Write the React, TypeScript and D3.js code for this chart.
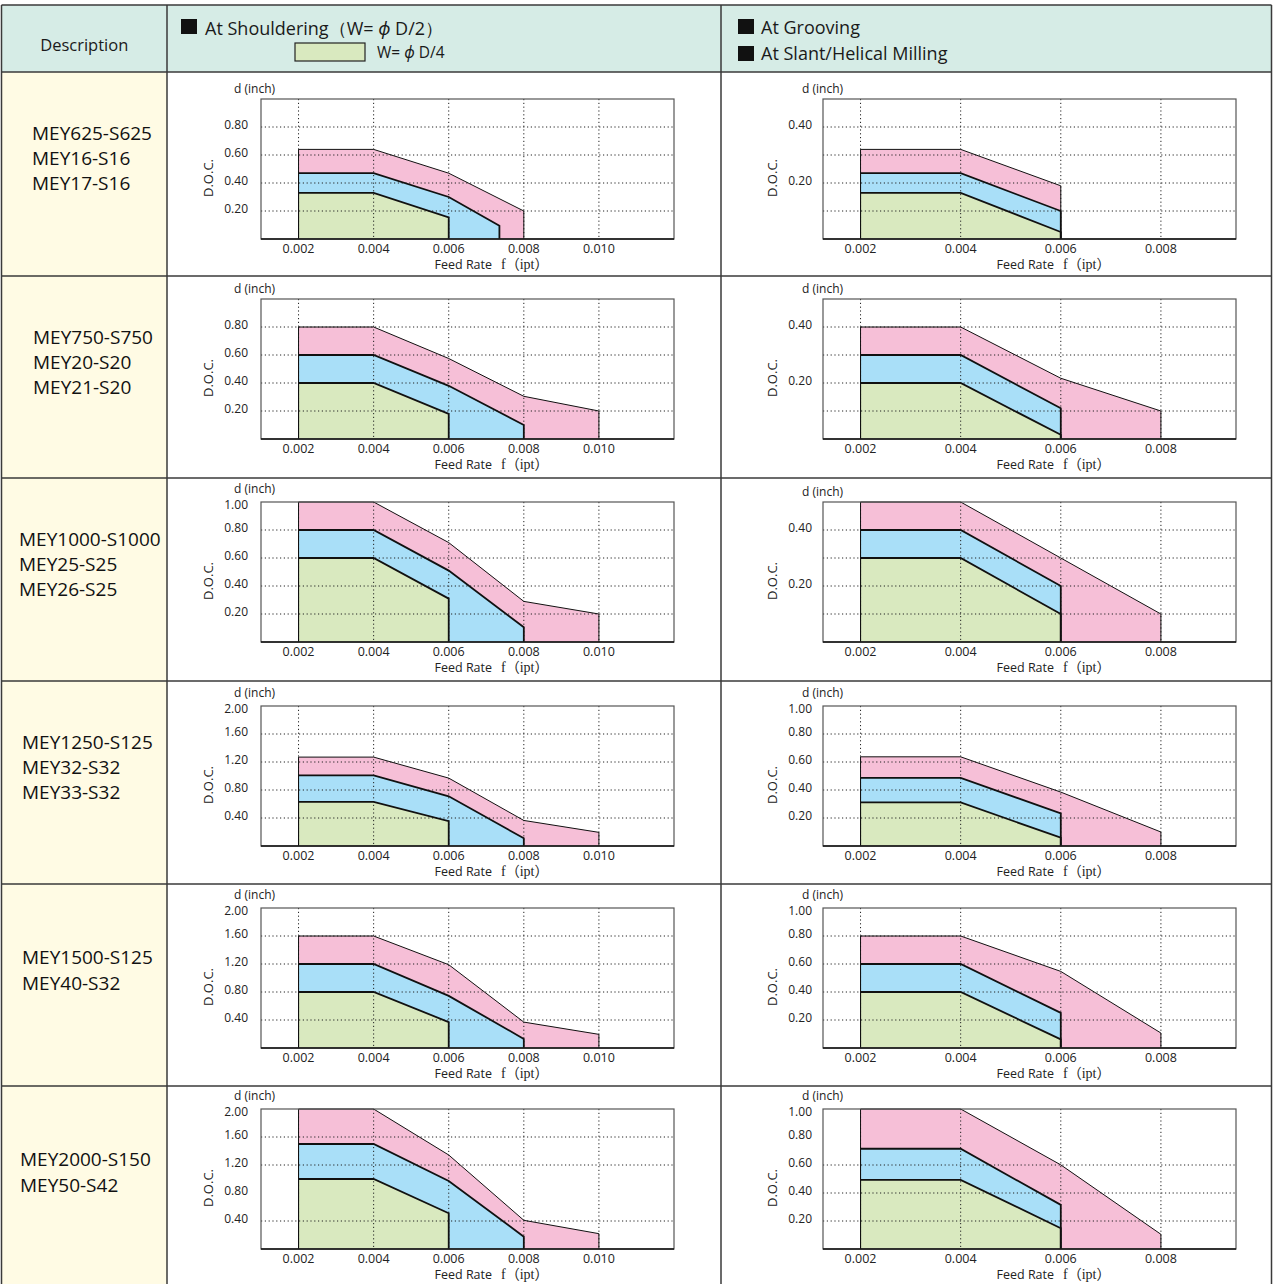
import React from 'react';
import * as d3 from 'd3';

type Pt = [number, number];

// --- table text ---
const descriptions: string[][] = [
  ['MEY625-S625', 'MEY16-S16', 'MEY17-S16'],
  ['MEY750-S750', 'MEY20-S20', 'MEY21-S20'],
  ['MEY1000-S1000', 'MEY25-S25', 'MEY26-S25'],
  ['MEY1250-S125', 'MEY32-S32', 'MEY33-S32'],
  ['MEY1500-S125', 'MEY40-S32'],
  ['MEY2000-S150', 'MEY50-S42'],
];

// --- x ticks (feed rate, ipt) ---
const shoulderFeedTicks = [0.002, 0.004, 0.006, 0.008, 0.010];
const grooveFeedTicks = [0.002, 0.004, 0.006, 0.008];

// --- depth of cut curves, each chart = [pink, blue (W=φD/2), green (W=φD/4)] ---
const shoulder625: Pt[][] = [
  [[0.002, 0.64], [0.004, 0.64], [0.006, 0.47], [0.008, 0.2]],
  [[0.002, 0.47], [0.004, 0.47], [0.006, 0.3], [0.00735, 0.095]],
  [[0.002, 0.33], [0.004, 0.33], [0.006, 0.155]],
];
const groove625: Pt[][] = [
  [[0.002, 0.32], [0.004, 0.32], [0.006, 0.19]],
  [[0.002, 0.235], [0.004, 0.235], [0.006, 0.1]],
  [[0.002, 0.165], [0.004, 0.165], [0.006, 0.025]],
];
const shoulder750: Pt[][] = [
  [[0.002, 0.8], [0.004, 0.8], [0.006, 0.575], [0.008, 0.305], [0.01, 0.2]],
  [[0.002, 0.6], [0.004, 0.6], [0.006, 0.38], [0.008, 0.1]],
  [[0.002, 0.4], [0.004, 0.4], [0.006, 0.18]],
];
const groove750: Pt[][] = [
  [[0.002, 0.4], [0.004, 0.4], [0.006, 0.217], [0.008, 0.1]],
  [[0.002, 0.3], [0.004, 0.3], [0.006, 0.11]],
  [[0.002, 0.2], [0.004, 0.2], [0.006, 0.015]],
];
const shoulder1000: Pt[][] = [
  [[0.002, 1.0], [0.004, 1.0], [0.006, 0.71], [0.008, 0.29], [0.01, 0.2]],
  [[0.002, 0.8], [0.004, 0.8], [0.006, 0.51], [0.008, 0.105]],
  [[0.002, 0.6], [0.004, 0.6], [0.006, 0.31]],
];
const groove1000: Pt[][] = [
  [[0.002, 0.5], [0.004, 0.5], [0.006, 0.3], [0.008, 0.1]],
  [[0.002, 0.4], [0.004, 0.4], [0.006, 0.2]],
  [[0.002, 0.3], [0.004, 0.3], [0.006, 0.1]],
];
const shoulder1250: Pt[][] = [
  [[0.002, 1.27], [0.004, 1.27], [0.006, 0.97], [0.008, 0.365], [0.01, 0.195]],
  [[0.002, 1.01], [0.004, 1.01], [0.006, 0.71], [0.008, 0.11]],
  [[0.002, 0.63], [0.004, 0.63], [0.006, 0.355]],
];
const groove1250: Pt[][] = [
  [[0.002, 0.637], [0.004, 0.637], [0.006, 0.385], [0.008, 0.1]],
  [[0.002, 0.487], [0.004, 0.487], [0.006, 0.233]],
  [[0.002, 0.311], [0.004, 0.311], [0.006, 0.059]],
];
const shoulder1500: Pt[][] = [
  [[0.002, 1.6], [0.004, 1.6], [0.006, 1.19], [0.008, 0.37], [0.01, 0.195]],
  [[0.002, 1.2], [0.004, 1.2], [0.006, 0.745], [0.008, 0.13]],
  [[0.002, 0.8], [0.004, 0.8], [0.006, 0.37]],
];
const groove1500: Pt[][] = [
  [[0.002, 0.8], [0.004, 0.8], [0.006, 0.547], [0.008, 0.107]],
  [[0.002, 0.6], [0.004, 0.6], [0.006, 0.251]],
  [[0.002, 0.4], [0.004, 0.4], [0.006, 0.062]],
];
const shoulder2000: Pt[][] = [
  [[0.002, 2.0], [0.004, 2.0], [0.006, 1.343], [0.008, 0.41], [0.01, 0.219]],
  [[0.002, 1.5], [0.004, 1.5], [0.006, 0.971], [0.008, 0.176]],
  [[0.002, 1.0], [0.004, 1.0], [0.006, 0.51]],
];
const groove2000: Pt[][] = [
  [[0.002, 1.0], [0.004, 1.0], [0.006, 0.601], [0.008, 0.105]],
  [[0.002, 0.716], [0.004, 0.716], [0.006, 0.315]],
  [[0.002, 0.494], [0.004, 0.494], [0.006, 0.148]],
];

const shoulderCharts = [shoulder625, shoulder750, shoulder1000, shoulder1250, shoulder1500, shoulder2000];
const grooveCharts = [groove625, groove750, groove1000, groove1250, groove1500, groove2000];

// --- y scales / ticks ---
const shoulderMax = [1, 1, 1, 2, 2, 2];
const grooveMax = [0.5, 0.5, 0.5, 1, 1, 1];
const shoulderLabels = [
  [0.2, 0.4, 0.6, 0.8],
  [0.2, 0.4, 0.6, 0.8],
  [0.2, 0.4, 0.6, 0.8, 1.0],
  [0.4, 0.8, 1.2, 1.6, 2.0],
  [0.4, 0.8, 1.2, 1.6, 2.0],
  [0.4, 0.8, 1.2, 1.6, 2.0],
];
const shoulderGrid = [
  [0.2, 0.4, 0.6, 0.8],
  [0.2, 0.4, 0.6, 0.8],
  [0.2, 0.4, 0.6, 0.8],
  [0.4, 0.8, 1.2, 1.6],
  [0.4, 0.8, 1.2, 1.6],
  [0.4, 1.2, 1.6],
];
const grooveLabels = [
  [0.2, 0.4],
  [0.2, 0.4],
  [0.2, 0.4],
  [0.2, 0.4, 0.6, 0.8, 1.0],
  [0.2, 0.4, 0.6, 0.8, 1.0],
  [0.2, 0.4, 0.6, 0.8, 1.0],
];
const grooveGrid = [
  [0.1, 0.2, 0.3, 0.4],
  [0.1, 0.2, 0.3, 0.4],
  [0.1, 0.2, 0.3, 0.4],
  [0.2, 0.4, 0.6, 0.8],
  [0.2, 0.4, 0.6, 0.8],
  [0.2, 0.4, 0.6],
];

// --- layout ---
const W = 1273;
const H = 1284;
const rowLines = [72, 276, 478, 681, 884, 1086, 1292];
const plotTops = [99, 299, 502, 706, 908, 1109];
const plotH = 140;
const descX = [32, 33, 19, 22, 22, 20];
const SANS = '"Open Sans", "Noto Sans", sans-serif';
const SERIF = '"Liberation Serif", "DejaVu Serif", "Noto Sans CJK JP", serif';
const FILLS = ['#f6bfd7', '#a9dff8', '#d9e9bf'];
const TOP_STROKE = [1, 1.8, 1.8];

interface ChartProps {
  x0: number;
  x1: number;
  top: number;
  xDomain: [number, number];
  feedTicks: number[];
  series: Pt[][];
  yMax: number;
  yLabels: number[];
  yGrid: number[];
  labelGap: number;
  dLabelDx: number;
}

function Chart({ x0, x1, top, xDomain, feedTicks, series, yMax, yLabels, yGrid, labelGap, dLabelDx }: ChartProps) {
  const bottom = top + plotH;
  const x = d3.scaleLinear().domain(xDomain).range([x0, x1]);
  const y = d3.scaleLinear().domain([0, yMax]).range([bottom, top]);
  const area = d3.area<Pt>().x(d => x(d[0])).y0(y(0)).y1(d => y(d[1]));
  const line = d3.line<Pt>().x(d => x(d[0])).y(d => y(d[1]));
  const fmt = d3.format('.2f');
  const fmtX = d3.format('.3f');
  const hasTopLabel = yLabels.some(v => Math.abs(v - yMax) < 1e-9);

  return (
    <g>
      {series.map((pts, i) => (
        <path key={'a' + i} d={area(pts) || ''} fill={FILLS[i]} />
      ))}
      {/* dotted grid */}
      <g stroke="#222" strokeWidth={1} strokeDasharray="1.2 2.6">
        {feedTicks.map(f => (
          <line key={'v' + f} x1={x(f)} x2={x(f)} y1={top} y2={bottom} />
        ))}
        {yGrid.map(v => (
          <line key={'h' + v} x1={x0} x2={x1} y1={y(v)} y2={y(v)} />
        ))}
      </g>
      {/* curve outlines */}
      {series.map((pts, i) => {
        const last = pts[pts.length - 1];
        const first = pts[0];
        return (
          <g key={'o' + i} fill="none" stroke="#111" strokeLinejoin="miter">
            <path d={line([[first[0], 0], first]) || ''} strokeWidth={1} />
            <path d={line([...pts, [last[0], 0]]) || ''} strokeWidth={TOP_STROKE[i]} />
          </g>
        );
      })}
      <rect x={x0} y={top} width={x1 - x0} height={plotH} fill="none" stroke="#555" strokeWidth={1.2} />
      <line x1={x0} x2={x1} y1={bottom} y2={bottom} stroke="#111" strokeWidth={1.6} />
      {/* y tick labels */}
      <g fontFamily={SANS} fontSize={12} fill="#222" textAnchor="end">
        {yLabels.map(v => (
          <text
            key={'yl' + v}
            x={x0 - labelGap}
            y={Math.abs(v - yMax) < 1e-9 ? y(v) + 2 : y(v) - 3}
            dominantBaseline="central"
          >
            {fmt(v)}
          </text>
        ))}
      </g>
      <text
        x={x0 + dLabelDx}
        y={hasTopLabel ? top - 14 : top - 11}
        fontFamily={SANS}
        fontSize={12}
        fill="#222"
        dominantBaseline="central"
      >
        d (inch)
      </text>
      <text
        transform={`translate(${x0 - labelGap - 40},${top + 79}) rotate(-90)`}
        fontFamily={SANS}
        fontSize={13}
        fill="#222"
        textAnchor="middle"
        dominantBaseline="central"
      >
        D.O.C.
      </text>
      {/* x tick labels */}
      <g fontFamily={SANS} fontSize={12.5} fill="#222" textAnchor="middle">
        {feedTicks.map(f => (
          <text key={'xl' + f} x={x(f)} y={bottom + 9} dominantBaseline="central">
            {fmtX(f)}
          </text>
        ))}
      </g>
      <text x={(x0 + x1) / 2 + 24} y={bottom + 25} textAnchor="middle" dominantBaseline="central" fill="#222">
        <tspan fontFamily={SANS} fontSize={12.5}>Feed Rate</tspan>
        <tspan fontFamily={SERIF} fontSize={14} dx={9}>f（ipt）</tspan>
      </text>
    </g>
  );
}

export default function App() {
  const colA = 167;
  const colB = 721;
  const left = 1.5;
  const right = W - 1.5;
  const tableTop = 5;

  return (
    <div style={{ position: 'absolute', left: 0, top: 0, width: W, height: H, background: '#fff', overflow: 'hidden' }}>
      <svg width={W} height={H} viewBox={`0 0 ${W} ${H}`} style={{ display: 'block' }}>
        <rect x={0} y={0} width={W} height={H} fill="#fff" />
        {/* header and description column backgrounds */}
        <rect x={left} y={tableTop} width={right - left} height={rowLines[0] - tableTop} fill="#d6ece6" />
        <rect x={left} y={rowLines[0]} width={colA - left} height={H - rowLines[0]} fill="#fffbe4" />

        {/* header texts */}
        <g fontFamily={SANS} fill="#1a1a1a">
          <text x={(left + colA) / 2} y={44} fontSize={16.5} textAnchor="middle" dominantBaseline="central">
            Description
          </text>
          <rect x={181} y={19} width={16} height={15} fill="#111" />
          <text x={205} y={27.5} fontSize={18} dominantBaseline="central">
            At Shouldering（W= <tspan fontStyle="italic">ϕ</tspan> D/2）
          </text>
          <rect x={295} y={43} width={70} height={18} fill={FILLS[2]} stroke="#222" strokeWidth={1.2} />
          <text x={377} y={52} fontSize={15.5} dominantBaseline="central">
            W= <tspan fontStyle="italic">ϕ</tspan> D/4
          </text>
          <rect x={738} y={19} width={16} height={15} fill="#111" />
          <text x={761} y={27} fontSize={18} dominantBaseline="central">
            At Grooving
          </text>
          <rect x={738} y={46} width={16} height={15} fill="#111" />
          <text x={761} y={53} fontSize={18} dominantBaseline="central">
            At Slant/Helical Milling
          </text>
        </g>

        {/* descriptions */}
        <g fontFamily={SANS} fontSize={19} fill="#111">
          {descriptions.map((lines, r) => {
            const center = rowLines[r] + 86;
            return lines.map((t, i) => (
              <text
                key={t}
                x={descX[r]}
                y={center + (i - (lines.length - 1) / 2) * 25.3}
                dominantBaseline="central"
              >
                {t}
              </text>
            ));
          })}
        </g>

        {/* charts */}
        {shoulderCharts.map((s, r) => (
          <Chart
            key={'s' + r}
            x0={261}
            x1={674}
            top={plotTops[r]}
            xDomain={[0.001, 0.012]}
            feedTicks={shoulderFeedTicks}
            series={s}
            yMax={shoulderMax[r]}
            yLabels={shoulderLabels[r]}
            yGrid={shoulderGrid[r]}
            labelGap={13}
            dLabelDx={-27}
          />
        ))}
        {grooveCharts.map((s, r) => (
          <Chart
            key={'g' + r}
            x0={823}
            x1={1236}
            top={plotTops[r]}
            xDomain={[0.00125, 0.0095]}
            feedTicks={grooveFeedTicks}
            series={s}
            yMax={grooveMax[r]}
            yLabels={grooveLabels[r]}
            yGrid={grooveGrid[r]}
            labelGap={11}
            dLabelDx={-21}
          />
        ))}

        {/* table lines */}
        <g stroke="#3a3a3a" strokeWidth={1.5} fill="none">
          <line x1={left} x2={right} y1={tableTop} y2={tableTop} />
          {rowLines.map(yv => (
            <line key={'r' + yv} x1={left} x2={right} y1={yv} y2={yv} />
          ))}
          <line x1={left} x2={left} y1={tableTop} y2={H} />
          <line x1={right} x2={right} y1={tableTop} y2={H} />
          <line x1={colA} x2={colA} y1={tableTop} y2={H} />
          <line x1={colB} x2={colB} y1={tableTop} y2={H} />
        </g>
      </svg>
    </div>
  );
}
